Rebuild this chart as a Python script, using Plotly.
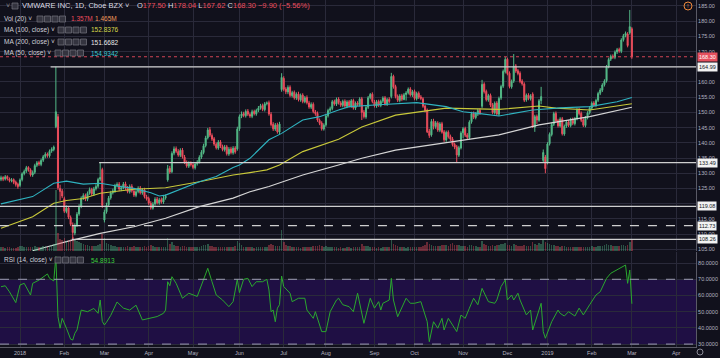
import plotly.graph_objects as go

# ---------------- data ----------------
bar_start = -9  # first visible bar index (bar 0 = first trading day of 2018)

closes = [
    128.5, 128.0, 128.8, 128.2, 127.6, 127.8, 127.0, 126.3, 125.6,
    127.8, 129.8, 130.6, 131.8, 131.2, 129.5, 130.2, 132.5, 133.4, 133.0,
    134.2, 135.4, 136.2, 135.8, 137.2, 137.9, 138.6, 150.2, 125.2, 124.0,
    122.5, 117.5, 118.5, 115.5, 113.2, 110.5, 112.8, 116.5, 119.0, 121.8,
    122.6, 121.5, 123.4, 124.6, 123.2, 124.8, 125.6, 127.9, 128.6, 119.4,
    117.2, 119.5, 121.8, 123.5, 124.2, 125.8, 126.3, 124.8, 125.2, 126.4,
    125.1, 124.0, 125.6, 124.2, 122.8, 123.9, 125.0, 123.6, 124.4, 122.3,
    121.6, 120.2, 118.6, 119.8, 121.4, 120.3, 121.2, 120.6, 121.8, 122.4,
    131.5, 130.4, 136.5, 138.0, 137.2, 136.0, 137.5, 135.4, 133.6, 132.4,
    133.2, 132.8, 131.9, 133.0, 133.6, 135.2, 136.9, 139.0, 141.6, 144.2,
    142.5, 141.2, 139.6, 138.4, 140.2, 138.9, 137.8, 138.6, 136.4, 137.9,
    136.8, 138.2, 137.0, 144.5, 148.6, 149.5, 149.0, 150.3, 149.4, 148.8,
    150.2, 149.6, 150.6, 151.4, 152.2, 151.0, 152.8, 153.1, 149.5, 146.0,
    144.6, 145.8, 143.6, 146.2, 161.5, 157.6, 156.8, 158.2, 155.6, 156.5,
    154.8, 156.0, 154.2, 155.6, 153.6, 154.8, 153.2, 151.8, 152.6, 150.3,
    149.6, 147.5, 146.4, 144.6, 145.8, 148.8, 150.6, 151.2, 153.5, 152.8,
    154.3, 153.2, 152.4, 153.6, 152.1, 153.4, 152.2, 153.8, 151.5, 153.0,
    152.6, 154.4, 150.0, 148.6, 151.6, 154.8, 155.9, 153.6, 152.2, 153.5,
    152.4, 153.6, 154.7, 152.8, 154.2, 153.6, 161.8, 158.4, 155.2, 154.0,
    155.4, 154.3, 155.8, 156.4, 157.6, 155.8, 156.8, 154.6, 156.2, 155.0,
    154.6, 152.0, 150.6, 143.6, 142.4, 147.0, 145.4, 146.6, 144.2, 146.2,
    143.5, 141.0, 143.4, 142.0, 141.2, 139.4, 138.6, 136.0, 138.4, 143.2,
    144.6, 142.5, 141.8, 146.8, 149.6, 148.4, 149.5, 150.6, 149.8, 159.2,
    156.8, 154.2, 155.5, 152.4, 150.0, 153.0, 149.5, 154.6, 158.5, 163.5,
    167.4, 162.8, 158.5, 160.2, 165.2, 163.6, 162.8, 160.2, 159.4, 154.0,
    155.6, 154.6, 155.4, 145.2, 148.6, 147.5, 153.8, 155.2, 136.8, 131.5,
    139.6, 142.8, 146.0, 149.6, 147.2, 145.6, 147.8, 143.0, 145.4, 146.8,
    145.8, 147.6, 146.4, 147.9, 150.8, 149.6, 147.4, 145.8, 148.2, 149.8,
    151.5, 153.0, 152.4, 153.9, 156.2, 157.4, 159.0, 160.3, 165.0, 167.4,
    168.4, 168.2, 169.8, 170.6, 170.2, 173.8, 175.2, 176.0, 172.0, 178.2, 168.3,
]

opens = [
    128.0, 128.6, 128.1, 128.9, 128.1, 127.5, 127.9, 127.1, 126.4,
    126.0, 127.9, 129.9, 130.7, 131.9, 131.1, 129.4, 130.3, 132.6, 133.5,
    132.9, 134.3, 135.5, 136.3, 135.7, 137.3, 137.8, 145.3, 148.6, 125.0,
    124.1, 121.6, 117.4, 118.6, 115.4, 113.0, 110.3, 112.9, 116.6, 119.1,
    121.9, 122.7, 121.4, 123.5, 124.7, 123.1, 124.9, 125.7, 128.0, 131.2,
    114.6, 117.3, 119.6, 121.9, 123.6, 124.1, 125.9, 126.4, 124.7, 125.3,
    126.5, 125.0, 123.9, 125.7, 124.1, 122.7, 124.0, 125.1, 123.5, 124.5,
    122.2, 121.7, 120.1, 118.5, 119.9, 121.5, 120.2, 121.3, 120.5, 121.9,
    127.8, 131.6, 130.5, 136.6, 138.1, 137.1, 135.9, 137.6, 135.3, 133.5,
    132.3, 133.3, 132.7, 131.8, 133.1, 133.7, 135.3, 136.8, 139.1, 141.7,
    144.3, 142.4, 141.3, 139.5, 138.3, 140.3, 138.8, 137.7, 138.7, 136.3,
    138.0, 136.7, 138.3, 138.0, 144.6, 148.7, 149.6, 148.9, 150.4, 149.3,
    148.7, 150.3, 149.5, 150.7, 151.5, 152.3, 150.9, 152.9, 153.2, 149.4,
    146.1, 144.5, 145.9, 143.5, 157.5, 161.2, 157.7, 156.7, 158.3, 155.5,
    156.6, 154.7, 156.1, 154.1, 155.7, 153.5, 154.9, 153.1, 151.7, 152.7,
    150.2, 149.7, 147.4, 146.5, 144.5, 145.9, 148.9, 150.7, 151.3, 153.6,
    152.7, 154.4, 153.1, 152.3, 153.7, 152.0, 153.5, 152.1, 153.9, 151.4,
    153.1, 152.5, 154.5, 150.1, 148.5, 151.7, 154.9, 156.0, 153.5, 152.1,
    153.6, 152.3, 153.7, 154.8, 152.7, 154.3, 155.2, 161.9, 158.5, 155.3,
    153.9, 155.5, 154.2, 155.9, 156.5, 157.7, 155.7, 156.9, 154.5, 156.3,
    155.1, 154.5, 152.1, 150.8, 143.8, 142.6, 147.1, 145.3, 146.5, 144.1,
    146.3, 143.6, 140.9, 143.5, 142.1, 141.3, 139.5, 138.7, 135.9, 138.3,
    143.3, 144.7, 142.6, 141.7, 146.9, 149.7, 148.3, 149.4, 150.7, 152.0,
    159.3, 156.9, 154.1, 155.6, 152.5, 149.9, 153.1, 149.4, 154.7, 158.6,
    163.4, 167.5, 162.9, 158.4, 160.3, 165.3, 163.7, 162.9, 160.3, 159.3,
    154.1, 155.7, 154.5, 156.0, 145.1, 148.7, 147.4, 153.9, 134.2, 135.3,
    133.5, 139.7, 142.7, 146.1, 149.7, 147.3, 145.5, 147.9, 142.9, 145.5,
    146.9, 145.7, 147.7, 146.3, 148.0, 150.9, 149.7, 147.5, 145.7, 148.3,
    149.9, 151.4, 153.1, 152.3, 154.0, 156.3, 157.3, 159.1, 160.4, 165.1,
    167.5, 168.5, 168.1, 169.9, 170.7, 170.1, 173.9, 175.3, 175.8, 176.2, 177.5,
]

highs = [
    129.2, 129.0, 129.4, 129.3, 128.6, 128.4, 128.3, 127.6, 126.9,
    128.3, 130.3, 131.2, 132.4, 132.3, 131.6, 130.9, 133.1, 134.0, 134.1,
    134.8, 136.0, 136.9, 136.8, 137.8, 138.5, 139.1, 164.99, 149.5, 126.2,
    124.8, 122.3, 119.4, 119.2, 116.1, 113.8, 113.5, 117.2, 119.8, 122.4,
    123.4, 123.3, 124.0, 125.3, 125.2, 125.5, 126.4, 128.5, 133.49, 131.8,
    118.0, 120.3, 122.5, 124.2, 124.9, 126.5, 127.0, 127.1, 125.9, 127.1,
    127.2, 125.8, 126.3, 126.4, 124.8, 124.6, 125.7, 125.8, 125.1, 125.2,
    122.9, 122.3, 120.8, 120.5, 122.1, 122.2, 121.9, 122.0, 122.5, 123.0,
    132.7, 132.4, 137.2, 138.8, 138.8, 137.9, 138.2, 138.3, 136.0, 134.2,
    133.9, 133.9, 133.4, 133.7, 134.3, 135.9, 137.6, 139.7, 142.3, 144.9,
    145.2, 143.1, 141.9, 140.1, 140.9, 140.9, 139.4, 139.3, 139.3, 138.6,
    138.7, 138.9, 138.9, 145.3, 149.3, 150.3, 150.2, 151.0, 151.1, 149.9,
    150.9, 150.9, 151.2, 152.1, 152.8, 152.9, 153.4, 153.6, 153.9, 150.1,
    146.8, 146.5, 146.6, 146.9, 162.9, 161.9, 158.3, 158.9, 158.9, 157.1,
    157.2, 156.6, 156.8, 156.2, 156.3, 155.4, 155.6, 153.8, 153.3, 153.3,
    150.8, 150.3, 148.0, 147.1, 146.4, 149.4, 151.2, 151.9, 154.1, 154.2,
    154.9, 155.0, 153.7, 154.2, 154.3, 154.0, 154.1, 154.4, 154.5, 153.6,
    153.7, 155.0, 155.1, 150.8, 152.2, 155.4, 156.4, 156.6, 154.1, 154.1,
    154.2, 154.2, 155.3, 155.4, 154.8, 155.0, 163.0, 162.4, 159.1, 155.9,
    156.0, 156.1, 156.4, 157.0, 158.2, 158.3, 157.4, 157.5, 156.8, 156.9,
    155.7, 155.0, 152.6, 151.3, 144.6, 147.8, 147.9, 147.2, 147.1, 146.8,
    146.9, 144.2, 144.0, 144.1, 142.7, 141.9, 140.1, 139.3, 139.0, 143.8,
    145.2, 145.3, 143.2, 147.4, 150.2, 150.3, 150.1, 151.2, 151.3, 160.7,
    159.9, 157.5, 156.1, 156.2, 153.1, 153.6, 153.7, 155.2, 159.1, 164.1,
    168.2, 168.0, 163.5, 160.8, 169.2, 165.9, 164.3, 163.5, 160.9, 159.9,
    156.2, 156.3, 156.0, 156.6, 149.2, 149.3, 154.4, 158.4, 137.8, 136.0,
    140.2, 143.4, 146.6, 150.2, 150.3, 147.9, 148.4, 148.5, 146.0, 147.4,
    147.5, 148.2, 148.3, 148.5, 151.4, 151.5, 150.3, 148.1, 148.8, 150.4,
    152.1, 153.6, 153.7, 154.5, 156.8, 158.0, 159.6, 160.9, 165.6, 168.0,
    169.0, 169.1, 170.4, 171.2, 171.3, 174.4, 175.8, 176.6, 176.4, 183.7, 178.04,
]

lows = [
    127.4, 127.4, 127.6, 127.6, 127.0, 127.0, 126.4, 125.6, 124.9,
    125.5, 127.3, 129.3, 130.1, 130.5, 128.9, 128.8, 129.7, 132.0, 132.4,
    132.3, 133.7, 134.9, 135.1, 135.1, 136.7, 137.2, 144.8, 124.5, 121.0,
    121.8, 116.9, 116.8, 114.9, 112.6, 108.26, 109.6, 112.3, 116.0, 118.5,
    121.2, 120.8, 120.8, 122.9, 122.5, 122.5, 124.3, 125.1, 127.4, 118.6,
    113.8, 116.7, 119.0, 121.3, 123.0, 123.5, 125.3, 124.1, 124.1, 124.7,
    124.5, 123.4, 123.3, 123.6, 122.2, 122.1, 123.4, 123.0, 122.9, 121.7,
    121.0, 119.6, 118.0, 118.0, 119.3, 119.7, 119.6, 120.0, 119.9, 121.3,
    127.2, 129.8, 130.0, 135.9, 136.6, 135.4, 135.3, 134.8, 133.0, 131.8,
    131.7, 132.2, 131.3, 131.2, 132.5, 133.2, 134.7, 136.2, 138.5, 141.1,
    141.9, 140.6, 139.0, 137.8, 137.7, 138.3, 137.2, 137.1, 135.8, 135.7,
    136.2, 136.1, 136.4, 137.4, 143.9, 148.1, 148.4, 148.3, 148.8, 148.2,
    148.1, 149.0, 148.9, 150.1, 150.9, 150.4, 150.3, 152.3, 148.9, 145.4,
    143.9, 143.9, 143.0, 142.8, 156.8, 157.0, 156.0, 156.0, 155.0, 154.9,
    154.2, 154.1, 153.6, 153.5, 153.0, 153.0, 152.6, 151.2, 151.1, 149.7,
    148.9, 146.9, 145.8, 144.0, 144.0, 145.3, 148.3, 150.1, 150.7, 152.2,
    152.1, 152.6, 151.8, 151.7, 151.5, 151.4, 151.6, 151.5, 150.9, 150.8,
    152.0, 151.9, 147.5, 148.0, 147.9, 151.1, 154.3, 153.0, 151.6, 151.5,
    151.8, 151.7, 153.1, 152.2, 152.1, 153.0, 154.6, 157.8, 154.6, 153.4,
    153.3, 153.7, 154.0, 153.9, 155.9, 155.2, 155.1, 154.0, 153.9, 154.4,
    154.0, 151.5, 150.0, 143.2, 141.6, 142.0, 144.4, 144.6, 143.6, 143.5,
    143.0, 140.3, 140.3, 141.4, 140.6, 138.8, 137.9, 133.4, 135.3, 137.8,
    141.5, 141.9, 141.1, 141.1, 146.3, 147.8, 147.7, 148.8, 149.2, 151.4,
    156.2, 153.6, 153.5, 151.8, 149.4, 149.3, 148.9, 148.8, 154.1, 158.0,
    162.8, 162.2, 157.9, 157.8, 159.7, 163.0, 162.2, 159.6, 158.8, 153.4,
    153.5, 154.0, 153.9, 144.9, 143.6, 146.2, 146.9, 152.7, 133.4, 130.0,
    132.9, 139.1, 142.1, 145.5, 146.6, 145.0, 145.0, 142.4, 142.3, 144.9,
    145.2, 145.1, 145.8, 145.7, 147.4, 149.0, 146.8, 145.2, 145.1, 147.7,
    149.3, 150.8, 151.8, 151.7, 153.4, 155.7, 156.7, 158.5, 159.8, 164.5,
    166.9, 167.6, 167.5, 169.2, 169.6, 169.5, 173.3, 174.7, 171.4, 175.6, 167.62,
]

volumes = [  # millions
    1.6, 1.4, 1.2, 1.5, 1.3, 1.1, 0.9, 1.2, 1.4,
    1.8, 1.9, 1.6, 1.5, 1.4, 1.6, 1.3, 1.7, 1.5, 1.4,
    1.6, 1.7, 1.8, 1.5, 1.9, 2.1, 2.4, 22.0, 6.5, 4.2,
    3.8, 4.6, 3.5, 3.9, 4.4, 5.2, 4.0, 3.6, 3.1, 2.8,
    2.4, 2.2, 2.0, 1.9, 1.8, 1.7, 1.9, 2.2, 2.6, 6.0,
    4.5, 3.0, 2.4, 2.1, 1.8, 1.7, 1.6, 1.5, 1.4, 1.6,
    1.5, 1.7, 1.6, 1.5, 1.8, 1.6, 1.4, 1.5, 1.3, 1.7,
    1.6, 1.8, 2.0, 1.7, 1.5, 1.4, 1.3, 1.5, 1.6, 1.4,
    4.8, 2.6, 3.4, 2.2, 1.9, 1.7, 1.6, 1.8, 1.7, 1.5,
    1.4, 1.3, 1.5, 1.4, 1.3, 1.6, 1.8, 2.0, 2.2, 2.5,
    1.9, 1.7, 1.6, 1.5, 1.4, 1.3, 1.5, 1.4, 1.6, 1.3,
    1.4, 1.5, 1.7, 3.6, 3.0, 2.1, 1.6, 1.5, 1.4, 1.3,
    1.4, 1.2, 1.3, 1.5, 1.4, 1.3, 1.6, 1.5, 2.0, 2.4,
    2.1, 1.8, 1.9, 1.7, 7.5, 3.2, 2.2, 1.9, 1.7, 1.5,
    1.4, 1.3, 1.4, 1.2, 1.3, 1.4, 1.5, 1.6, 1.4, 1.7,
    1.8, 1.9, 2.0, 1.8, 1.6, 1.7, 1.5, 1.4, 1.6, 1.3,
    1.4, 1.2, 1.3, 1.1, 1.2, 1.3, 1.4, 1.2, 1.5, 1.3,
    1.4, 1.6, 2.4, 1.9, 1.7, 1.8, 1.6, 1.4, 1.3, 1.2,
    1.3, 1.2, 1.4, 1.3, 1.5, 1.4, 3.8, 2.6, 2.0, 1.7,
    1.5, 1.4, 1.3, 1.2, 1.4, 1.5, 1.3, 1.4, 1.5, 1.3,
    1.6, 1.8, 2.0, 3.2, 2.6, 2.2, 1.9, 1.8, 1.9, 1.7,
    2.1, 2.3, 2.0, 1.9, 2.4, 2.9, 2.3, 2.0, 2.2, 1.9,
    1.8, 1.7, 1.6, 2.0, 2.1, 1.8, 1.7, 1.6, 1.5, 3.6,
    2.4, 2.0, 1.8, 1.9, 2.1, 1.8, 2.0, 2.2, 2.4, 2.6,
    2.8, 2.3, 2.1, 1.9, 2.6, 2.0, 1.8, 1.9, 1.7, 2.2,
    1.9, 1.8, 1.7, 3.4, 2.6, 2.2, 2.8, 2.4, 4.0, 3.2,
    2.9, 2.4, 2.2, 2.0, 1.8, 1.7, 1.6, 1.9, 1.7, 1.6,
    1.5, 1.4, 1.5, 1.3, 1.6, 1.4, 1.5, 1.6, 1.4, 1.5,
    1.6, 1.7, 1.5, 1.6, 1.8, 1.7, 1.9, 2.0, 2.4, 2.2,
    2.0, 1.8, 1.9, 1.7, 1.8, 2.1, 2.0, 1.9, 2.3, 3.4, 3.8,
]

# moving averages read at selected bars
ma50_idx = [-9, 6, 16, 22, 30, 38, 46, 54, 62, 66, 69, 77, 85, 93, 101, 104, 109, 118, 124,
            134, 142, 151, 156, 170, 188, 202, 210, 218, 227, 243, 256, 270, 283, 290]
ma50_val = [119.9, 122.3, 126.7, 127.4, 126.4, 126.7, 125.8, 125.0, 123.6, 122.5, 122.8, 125.0,
            127.2, 128.9, 131.9, 132.7, 134.9, 141.0, 143.1, 147.5, 148.6, 150.8, 151.9, 152.5,
            153.2, 151.9, 150.2, 149.6, 148.8, 150.8, 151.5, 151.9, 153.5, 154.93]

ma100_idx = [-9, 6, 16, 22, 30, 38, 54, 69, 85, 101, 109, 117, 123, 134, 151, 162, 178, 189,
             202, 227, 246, 254, 270, 290]
ma100_val = [111.9, 115.7, 120.1, 121.0, 121.7, 123.4, 124.7, 125.2, 127.2, 129.4, 130.2, 131.1,
             132.7, 137.1, 141.2, 145.2, 149.1, 150.2, 151.4, 151.0, 152.1, 151.4, 150.8, 152.84]

ma200_idx = [6, 22, 38, 54, 69, 85, 101, 109, 118, 134, 151, 162, 178, 194, 210, 227, 246, 270, 290]
ma200_val = [104.5, 107.5, 110.2, 112.4, 115.2, 119.0, 121.8, 123.9, 125.6, 129.4, 132.7, 134.9,
             137.6, 139.3, 140.9, 142.6, 145.9, 148.6, 151.67]

rsi_idx = [-9, -7, -5, -2, 0, 2, 5, 6, 9, 13, 14, 16, 17, 18, 19, 20, 22, 23, 24, 25, 26, 27, 29,
           32, 35, 37, 38, 39, 40, 41, 43, 46, 49, 52, 55, 58, 62, 65, 68, 69, 70, 71, 72, 74, 77,
           80, 84, 87, 89, 91, 93, 96, 99, 101, 103, 104, 106, 108, 110, 112, 115, 117, 118, 119,
           120, 121, 122, 123, 124, 125, 128, 129, 132, 135, 136, 139, 140, 143, 145, 147, 150,
           151, 153, 156, 158, 160, 161, 163, 166, 168, 170, 171, 172, 175, 176, 177, 179, 181,
           183, 185, 187, 190, 192, 193, 194, 196, 198, 200, 201, 203, 205, 207, 209, 211, 213,
           215, 217, 219, 222, 225, 226, 228, 230, 231, 233, 234, 236, 237, 240, 242, 243, 245,
           247, 248, 249, 252, 255, 256, 258, 260, 263, 265, 267, 270, 273, 275, 278, 280, 283,
           287, 288, 289, 290]
rsi_val = [65.4, 66.0, 62.3, 55.6, 66.5, 67.5, 60.3, 67.5, 69.5, 73.3, 70.6, 69.0, 84.0, 46.9,
           39.8, 45.9, 39.8, 36.0, 33.0, 32.5, 36.7, 38.7, 51.0, 50.0, 52.0, 49.0, 57.2, 44.0,
           41.8, 43.5, 47.7, 56.0, 52.2, 51.0, 54.0, 44.9, 45.9, 47.0, 49.0, 51.0, 68.5, 66.0,
           71.6, 67.5, 58.3, 61.4, 59.4, 69.6, 76.8, 68.5, 60.3, 57.2, 53.1, 56.2, 70.0, 61.8,
           70.0, 70.6, 65.5, 68.5, 68.5, 70.0, 63.4, 50.0, 51.0, 43.8, 52.2, 54.3, 72.0, 65.5,
           61.4, 56.2, 58.3, 58.3, 51.0, 45.9, 50.0, 37.7, 37.7, 50.0, 57.2, 58.3, 54.3, 53.1,
           50.0, 61.4, 55.2, 42.8, 58.3, 52.2, 56.2, 51.0, 55.2, 57.2, 70.6, 57.2, 46.9, 52.2,
           58.3, 55.2, 55.2, 56.2, 46.9, 43.8, 31.5, 43.8, 39.8, 45.9, 38.7, 45.9, 41.8, 37.7,
           47.9, 45.9, 52.2, 58.3, 54.3, 64.4, 56.2, 55.2, 57.2, 65.5, 69.6, 57.2, 60.3, 57.2,
           61.4, 57.2, 48.0, 51.0, 38.7, 47.3, 55.2, 37.7, 33.6, 43.8, 51.0, 49.0, 47.3, 50.0,
           47.3, 52.2, 48.0, 54.3, 60.3, 62.3, 70.6, 73.7, 75.7, 78.8, 67.5, 75.7, 54.89]

# horizontal drawings (price level, first bar)
levels = [164.99, 133.49, 119.08, 112.73, 108.26]
level_start = [14.5, 37.5, -9.5, -9.5, 24.5]
level_dashed = [False, False, False, True, False]
last_close = 168.30

month_idx = [0, 21, 40, 61, 82, 104, 125, 145, 168, 187, 210, 231, 250, 271, 290, 311]
month_lbl = ['2018', 'Feb', 'Mar', 'Apr', 'May', 'Jun', 'Jul', 'Aug', 'Sep', 'Oct', 'Nov',
             'Dec', '2019', 'Feb', 'Mar', 'Apr']
price_ticks = list(range(105, 186, 5))
hidden_price_ticks = [165, 120]   # covered by the level labels in the reference
rsi_ticks = [30, 40, 50, 60, 70, 80]

# ---------------- styling ----------------
BG = '#11111c'
GRID = '#2a2a3a'
UP = '#53b987'
DN = '#eb4d5c'
AXTXT = '#b4b4c0'
FONT = 'Liberation Sans, Arial, sans-serif'
PW, PH = 696.0, 347.0
X0, X1 = -9.48, 320.4

idx = list(range(bar_start, bar_start + len(closes)))
vol_colors = ['rgba(83,185,135,0.40)' if c >= o else 'rgba(235,77,92,0.40)'
              for o, c in zip(opens, closes)]

fig = go.Figure()
fig.add_trace(go.Bar(x=idx, y=volumes, marker=dict(color=vol_colors, line=dict(width=0)),
                     xaxis='x', yaxis='y2', width=0.75, showlegend=False))
fig.add_trace(go.Candlestick(x=idx, open=opens, high=highs, low=lows, close=closes,
                             increasing=dict(line=dict(color=UP, width=1), fillcolor=UP),
                             decreasing=dict(line=dict(color=DN, width=1), fillcolor=DN),
                             whiskerwidth=0, xaxis='x', yaxis='y', showlegend=False))
for xs, ys, col in [(ma200_idx, ma200_val, '#d6d6d6'), (ma100_idx, ma100_val, '#c9c93a'),
                    (ma50_idx, ma50_val, '#2fb3c0')]:
    fig.add_trace(go.Scatter(x=xs, y=ys, mode='lines', line=dict(color=col, width=1.1),
                             xaxis='x', yaxis='y', showlegend=False))
fig.add_trace(go.Scatter(x=rsi_idx, y=rsi_val, mode='lines', line=dict(color='#2aa82e', width=1),
                         xaxis='x2', yaxis='y3', showlegend=False))

shapes = []
# RSI band
shapes.append(dict(type='rect', xref='paper', yref='y3', x0=0, x1=1, y0=30, y1=70,
                   fillcolor='#1f0f44', line=dict(width=0), layer='below'))
for lv in (70, 30):
    shapes.append(dict(type='line', xref='paper', yref='y3', x0=0, x1=1, y0=lv, y1=lv,
                       line=dict(color='#9c9cb4', width=1, dash='dash')))
# last price dotted line
shapes.append(dict(type='line', xref='x', yref='y', x0=X0, x1=X1, y0=last_close, y1=last_close,
                   line=dict(color='#d24454', width=1, dash='dot')))
# drawn levels
for lv, st, dsh in zip(levels, level_start, level_dashed):
    shapes.append(dict(type='line', xref='x', yref='y', x0=st, x1=X1, y0=lv, y1=lv,
                       line=dict(color='#cfcfcf', width=1.3, dash='dash' if dsh else 'solid')))


def px(xp):
    return xp / PW


def py(yp):
    return (PH - yp) / PH


annotations = []


def ann(text, x, y, color, size, anchor='left'):
    annotations.append(dict(text=text, x=px(x), y=py(y), xref='paper', yref='paper',
                            xanchor=anchor, yanchor='middle', showarrow=False,
                            font=dict(color=color, size=size, family=FONT)))


def icons(x_start, y_c, n=4):
    for k in range(n):
        xa = x_start + k * 7.5
        shapes.append(dict(type='rect', xref='paper', yref='paper', x0=px(xa), x1=px(xa + 6),
                           y0=py(y_c + 3), y1=py(y_c - 3), fillcolor='#34343f',
                           line=dict(color='#75757f', width=0.7)))


red = DN
ann('VMWARE INC, 1D, Cboe BZX \u02c5', 20, 6, '#dcdce4', 7.5)
ann(('O<span style="color:%s">177.50</span> H<span style="color:%s">178.04</span> '
     'L<span style="color:%s">167.62</span> C<span style="color:%s">168.30 \u22129.90 '
     '(\u22125.56%%)</span>') % (red, red, red, red), 135, 6, '#dcdce4', 7.5)
shapes.append(dict(type='rect', xref='paper', yref='paper', x0=px(12), x1=px(18),
                   y0=py(9), y1=py(3), fillcolor='#34343f', line=dict(color='#75757f', width=0.7)))
ann('\u02c5', 4, 6, '#8a8a96', 7)

LEG = 6.5
ann('Vol (20) \u02c5', 2, 19, '#d0d0d8', LEG)
icons(37, 19)
ann('1.357M', 69, 19, DN, LEG)
ann('1.465M', 93, 19, '#f09a5a', LEG)

ann('MA (100, close) \u02c5', 2, 30, '#d0d0d8', LEG)
icons(58, 30)
ann('152.8376', 89, 30, '#d8d84a', LEG)

ann('MA (200, close) \u02c5', 2, 42, '#d0d0d8', LEG)
icons(58, 42)
ann('151.6682', 89, 42, '#e8e8e8', LEG)

ann('MA (50, close) \u02c5', 2, 53, '#d0d0d8', LEG)
icons(55, 53)
ann('154.9342', 89, 53, '#3cc8d4', LEG)

ann('RSI (14, close) \u02c5', 2, 260, '#d0d0d8', LEG)
icons(55, 260)
ann('54.8913', 89, 260, '#3ccf3c', LEG)

# orange alert icon top-right and settings icon bottom-right
shapes.append(dict(type='circle', xref='paper', yref='paper', x0=px(684), x1=px(692),
                   y0=py(10), y1=py(2), line=dict(color='#f08a3c', width=1)))
ann('!', 688, 6, '#f08a3c', 6, anchor='center')
shapes.append(dict(type='circle', xref='paper', yref='paper', x0=px(697), x1=px(703),
                   y0=py(355), y1=py(349), line=dict(color='#8a8a96', width=1)))

# axis price label boxes
for lv in levels:
    annotations.append(dict(text='%.2f' % lv, x=1.0, y=lv, xref='paper', yref='y',
                            xanchor='left', yanchor='middle', showarrow=False, xshift=1,
                            bgcolor='#f2f2f2', borderpad=1,
                            font=dict(color='#131722', size=5.5, family=FONT)))
annotations.append(dict(text='%.2f' % last_close, x=1.0, y=last_close, xref='paper', yref='y',
                        xanchor='left', yanchor='middle', showarrow=False, xshift=1,
                        bgcolor='#e5505e', borderpad=1,
                        font=dict(color='#ffffff', size=5.5, family=FONT)))

axfont = dict(color=AXTXT, size=5.5, family=FONT)
fig.update_layout(
    width=720, height=358,
    margin=dict(l=0, r=24, t=0, b=11, pad=0),
    paper_bgcolor=BG, plot_bgcolor=BG,
    showlegend=False, bargap=0,
    shapes=shapes, annotations=annotations,
    xaxis=dict(domain=[0, 1], anchor='y', range=[X0, X1], tickmode='array', tickvals=month_idx,
               showticklabels=False, showgrid=True, gridcolor=GRID, gridwidth=1,
               zeroline=False, rangeslider=dict(visible=False), fixedrange=True),
    xaxis2=dict(domain=[0, 1], anchor='y3', range=[X0, X1], matches='x', tickmode='array',
                tickvals=month_idx, ticktext=month_lbl, tickfont=axfont, ticks='',
                showgrid=True, gridcolor=GRID, gridwidth=1, zeroline=False,
                showline=True, linecolor='#5a5a66', linewidth=1, automargin=False),
    yaxis=dict(domain=[(PH - 251) / PH, 1], anchor='x', range=[104.41, 186.97], side='right',
               tickmode='array', tickvals=price_ticks,
               ticktext=['' if v in hidden_price_ticks else '%.2f' % v for v in price_ticks],
               tickfont=axfont, ticks='',
               showgrid=True, gridcolor=GRID, zeroline=False, showline=True,
               linecolor='#5a5a66', linewidth=1, automargin=False),
    yaxis2=dict(overlaying='y', anchor='x', range=[0, 90], visible=False, showgrid=False),
    yaxis3=dict(domain=[0, (PH - 252) / PH], anchor='x2', range=[28.2, 86.85], side='right',
                tickmode='array', tickvals=rsi_ticks,
                ticktext=['%.4f' % v for v in rsi_ticks], tickfont=axfont, ticks='',
                showgrid=True, gridcolor=GRID, zeroline=False, showline=True,
                linecolor='#5a5a66', linewidth=1, automargin=False),
)

fig.write_html('out.html', config={'displayModeBar': False},
               post_script="document.body.style.margin='0';document.body.style.padding='0';"
                           "document.body.style.overflow='hidden';"
                           "document.body.style.background='%s';" % BG)
